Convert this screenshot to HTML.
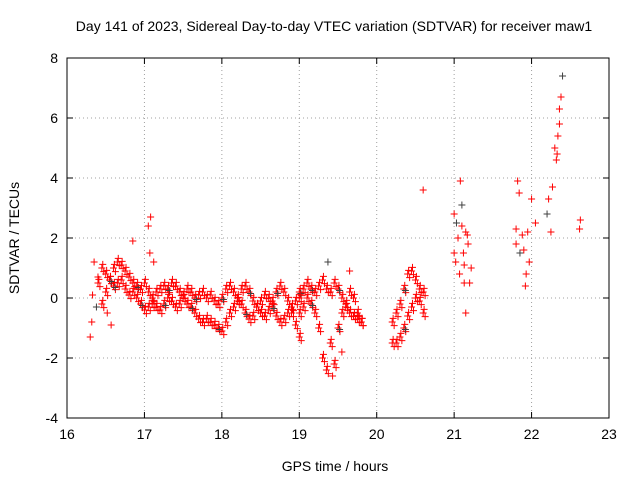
<!DOCTYPE html>
<html><head><meta charset="utf-8"><style>
body{margin:0;background:#fff}
svg text{font-family:"Liberation Sans",sans-serif;font-size:14px;fill:#000}
</style></head><body>
<svg id="chart" width="640" height="480" viewBox="0 0 640 480" xmlns="http://www.w3.org/2000/svg">
<rect width="640" height="480" fill="#fff"/>
<text x="334" y="31" text-anchor="middle">Day 141 of 2023, Sidereal Day-to-day VTEC variation (SDTVAR) for receiver maw1</text>
<text x="335" y="471" text-anchor="middle">GPS time / hours</text>
<text transform="translate(19,238) rotate(-90)" text-anchor="middle">SDTVAR / TECUs</text>
<g id="grid"></g><g id="ticks"></g><g id="marks"></g>
<rect x="67" y="58" width="542" height="360" fill="none" stroke="#000" stroke-width="1"/>
</svg>
<script>
const xTicks=[16,17,18,19,20,21,22,23];
const yTicks=[-4,-2,0,2,4,6,8];
const bandAx=[16.45,16.5,16.55,16.6,16.65,16.7,16.75,16.8,16.85,16.9,16.95,17.0,17.05,17.1,17.15,17.2,17.25,17.3,17.35,17.4,17.45,17.5,17.55,17.6,17.65,17.7,17.75,17.8,17.85,17.9,17.95,18.0,18.05,18.1,18.15,18.2,18.25,18.3,18.35,18.4,18.45,18.5,18.55,18.6,18.65,18.7,18.75,18.8,18.85,18.9,18.95,19.0];
const bandAy=[1.0,0.8,0.6,0.4,0.5,0.6,0.3,0.1,0.2,0.0,-0.2,-0.4,-0.3,0.0,0.2,0.3,0.4,0.3,0.5,0.4,0.2,0.1,0.3,0.2,0.0,0.1,0.2,0.0,0.1,-0.1,-0.2,0.0,0.3,0.4,0.2,0.0,0.3,0.4,0.2,-0.1,-0.3,-0.5,-0.6,-0.4,-0.1,0.2,0.4,0.2,-0.1,-0.5,-0.9,-1.3];
const bandBx=[16.4,16.45,16.5,16.55,16.6,16.65,16.7,16.75,16.8,16.85,16.9,16.95,17.0,17.05,17.1,17.15,17.2,17.25,17.3,17.35,17.4,17.45,17.5,17.55,17.6,17.65,17.7,17.75,17.8,17.85,17.9,17.95,18.0,18.05,18.1,18.15,18.2,18.25,18.3,18.35,18.4,18.45,18.5,18.55,18.6,18.65,18.7,18.75,18.8,18.85,18.9,18.95,19.0];
const bandBy=[0.5,-0.2,0.2,0.6,1.0,1.2,1.1,0.9,0.7,0.5,0.4,0.3,0.5,0.2,-0.2,-0.3,-0.4,-0.2,0.0,-0.1,-0.3,-0.2,0.0,-0.2,-0.3,-0.5,-0.7,-0.8,-0.7,-0.8,-0.9,-1.0,-1.1,-0.8,-0.5,-0.3,-0.1,-0.2,-0.5,-0.7,-0.6,-0.3,-0.1,0.1,0.0,-0.3,-0.6,-0.8,-0.7,-0.5,-0.3,-0.1,0.2];
const bandCx=[19.0,19.05,19.1,19.15,19.2,19.25,19.3,19.35,19.4,19.45,19.5,19.55,19.6,19.65,19.7,19.75,19.8];
const bandCy=[0.0,0.3,0.5,0.3,0.2,0.4,0.6,0.3,0.2,0.5,0.3,0.0,-0.3,-0.5,-0.6,-0.7,-0.8];
const bandDy=[-0.5,-0.3,0.0,-0.2,-0.5,-1.0,-2.0,-2.4,-1.5,-2.2,-1.0,-0.5,-0.2,0.2,0.0,-0.5,-0.8];
const bandEx=[20.2,20.25,20.3,20.35,20.4,20.45,20.5,20.55,20.6];
const bandEy=[-1.5,-1.5,-1.3,-1.0,-0.6,-0.3,0.0,0.3,0.2];
const bandFy=[-0.8,-0.5,-0.2,0.3,0.8,0.9,0.6,-0.1,-0.5];
const sparseX=[16.3,16.32,16.33,16.35,16.38,16.4,16.52,16.57,16.85,17.08,17.05,17.07,17.12,19.37,19.55,19.43,19.65,20.6,21.0,21.02,21.05,21.08,21.1,21.12,21.13,21.15,21.15,21.18,21.2,21.22,21.0,21.03,21.07,21.1,21.13,21.17,21.8,21.8,21.82,21.84,21.85,21.88,21.9,21.92,21.93,21.95,21.97,22.0,22.05,22.2,22.22,22.25,22.27,22.3,22.32,22.34,22.36,22.38,22.4,22.36,22.33,22.62,22.63];
const sparseY=[-1.3,-0.8,0.1,1.2,-0.3,0.7,-0.5,-0.9,1.9,2.7,2.4,1.5,1.2,1.2,-1.8,-2.6,0.9,3.6,2.8,1.2,2.0,3.9,3.1,1.5,0.5,-0.5,2.2,1.8,0.5,1.0,1.5,2.5,0.8,2.4,1.1,2.1,2.3,1.8,3.9,3.5,1.5,2.1,1.6,0.4,0.8,2.2,1.2,3.3,2.5,2.8,3.3,2.2,3.7,5.0,4.6,5.4,5.8,6.7,7.4,6.3,4.8,2.3,2.6];
const NS="http://www.w3.org/2000/svg";
const L=67,R=609,T=58,B=418;
const sx=v=>L+(v-16)/7*(R-L);
const sy=v=>B-(v+4)/12*(B-T);
function mk(tag,attrs,parent){const e=document.createElementNS(NS,tag);for(const k in attrs)e.setAttribute(k,attrs[k]);parent.appendChild(e);return e;}
const grid=document.getElementById('grid'),ticks=document.getElementById('ticks'),marks=document.getElementById('marks');
xTicks.forEach(t=>{const x=sx(t);
 if(t>16&&t<23){const g=mk('line',{x1:x,x2:x,y1:T,y2:B,stroke:'#a0a0a0','stroke-dasharray':'1,3'},grid);
 
 }
 mk('line',{x1:x,x2:x,y1:B,y2:B-6,stroke:'#000'},ticks);
 mk('line',{x1:x,x2:x,y1:T,y2:T+6,stroke:'#000'},ticks);
 const tx=mk('text',{x:x,y:B+21,'text-anchor':'middle'},ticks);tx.textContent=t;
 
 });
yTicks.forEach(t=>{const y=sy(t);
 if(t>-4&&t<8){const g=mk('line',{x1:L,x2:R,y1:y,y2:y,stroke:'#a0a0a0','stroke-dasharray':'1,3'},grid);
 
 }
 mk('line',{x1:L,x2:L+6,y1:y,y2:y,stroke:'#000'},ticks);
 mk('line',{x1:R,x2:R-6,y1:y,y2:y,stroke:'#000'},ticks);
 const tx=mk('text',{x:L-9,y:y+5,'text-anchor':'end'},ticks);tx.textContent=t;
 
 });
function plus(x,y,c){const p=mk('path',{d:`M${sx(x)-3.5},${sy(y)}h7M${sx(x)},${sy(y)-3.5}v7`,stroke:c,'stroke-width':1,fill:'none'},marks);
 
 }
function series(xs,ys){xs.forEach((x,i)=>{plus(x,ys[i],'#ff0000');plus(x+0.012,ys[i]+0.12,'#ff0000');plus(x+0.025,ys[i]-0.12,'#ff0000');if(i%7==3)plus(x+0.02,ys[i]-0.05,'#404040');});}
series(bandAx,bandAy);series(bandBx,bandBy);series(bandCx,bandCy);series(bandCx,bandDy);series(bandEx,bandEy);series(bandEx,bandFy);
sparseX.forEach((x,i)=>plus(x,sparseY[i],i%9==4?'#404040':'#ff0000'));
</script>
</body></html>
